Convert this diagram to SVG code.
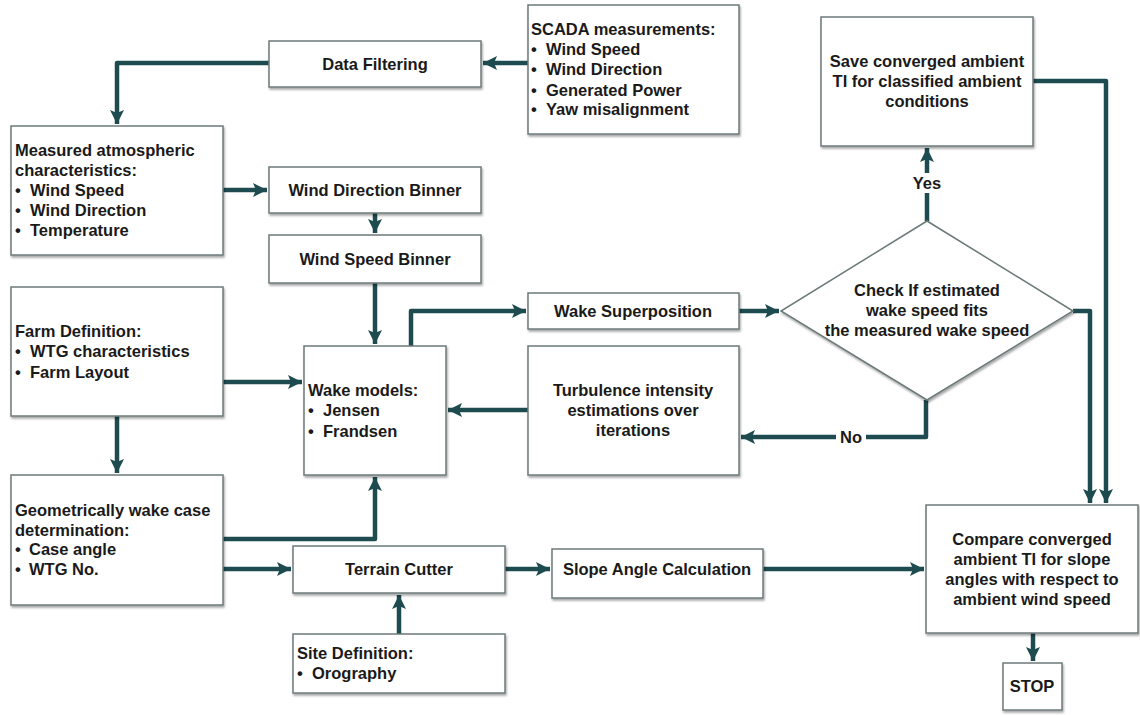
<svg xmlns="http://www.w3.org/2000/svg" width="1140" height="715" viewBox="0 0 1140 715">
<defs>
<marker id="ah" markerUnits="userSpaceOnUse" markerWidth="16" markerHeight="16" refX="14" refY="7" orient="auto">
<path d="M0,0 L14,7 L0,14 L3,7 z" fill="#1d4b4f"/>
</marker>
<filter id="sh" x="-10%" y="-10%" width="120%" height="130%">
<feDropShadow dx="1" dy="2" stdDeviation="1.2" flood-color="#000" flood-opacity="0.35"/>
</filter>
</defs>
<style>
.box{fill:#fff;stroke:#6c7a7a;stroke-width:1.5;filter:url(#sh)}
.t{font-family:"Liberation Sans",Arial,sans-serif;font-weight:bold;font-size:16.5px;fill:#1a1a1a}
.c{text-anchor:middle}
.ln{fill:none;stroke:#1d4b4f;stroke-width:4.5;stroke-linejoin:round}
.ar{marker-end:url(#ah)}
</style>
<rect width="1140" height="715" fill="#fff"/>

<g id="connectors">
<path class="ln ar" d="M528,63 H483"/>
<path class="ln ar" d="M269,63 H117 V124"/>
<path class="ln ar" d="M223,190 H267"/>
<path class="ln ar" d="M375,213 V233"/>
<path class="ln ar" d="M375,283 V344"/>
<path class="ln ar" d="M223,382 H302"/>
<path class="ln ar" d="M117,416 V473"/>
<path class="ln ar" d="M223,539 H375 V477"/>
<path class="ln ar" d="M223,569 H291"/>
<path class="ln ar" d="M399,634 V595"/>
<path class="ln ar" d="M505,569 H550"/>
<path class="ln ar" d="M763,569 H924"/>
<path class="ln ar" d="M411,346 V311 H526"/>
<path class="ln ar" d="M739,311 H779"/>
<path class="ln ar" d="M528,410 H448"/>
<path class="ln ar" d="M926,400 V437 H741"/>
<path class="ln ar" d="M927,221 V148"/>
<path class="ln ar" d="M1073,311 H1090 V503"/>
<path class="ln ar" d="M1033,81 H1106 V503"/>
<path class="ln ar" d="M1033,633 V661"/>
<rect x="836" y="428" width="30" height="18" fill="#fff"/>
<text class="t c" x="851" y="443">No</text>
<rect x="909" y="173" width="36" height="20" fill="#fff"/>
<text class="t c" x="927" y="189">Yes</text>
</g>

<g id="scada">
<rect class="box" x="528" y="5" width="211" height="129"/>
<text class="t" x="531" y="35">SCADA measurements:</text>
<text class="t" x="531" y="55">•</text><text class="t" x="546" y="55">Wind Speed</text>
<text class="t" x="531" y="75">•</text><text class="t" x="546" y="75">Wind Direction</text>
<text class="t" x="531" y="96">•</text><text class="t" x="546" y="96">Generated Power</text>
<text class="t" x="531" y="115">•</text><text class="t" x="546" y="115">Yaw misalignment</text>
</g>

<g id="data-filtering">
<rect class="box" x="269" y="41" width="212" height="46"/>
<text class="t c" x="375" y="70">Data Filtering</text>
</g>

<g id="measured">
<rect class="box" x="11" y="126" width="212" height="129"/>
<text class="t" x="15" y="156">Measured atmospheric</text>
<text class="t" x="15" y="176">characteristics:</text>
<text class="t" x="15" y="196">•</text><text class="t" x="30" y="196">Wind Speed</text>
<text class="t" x="15" y="216">•</text><text class="t" x="30" y="216">Wind Direction</text>
<text class="t" x="15" y="236">•</text><text class="t" x="30" y="236">Temperature</text>
</g>

<g id="wind-direction-binner">
<rect class="box" x="269" y="167" width="212" height="46"/>
<text class="t c" x="375" y="196">Wind Direction Binner</text>
</g>

<g id="wind-speed-binner">
<rect class="box" x="269" y="235" width="212" height="48"/>
<text class="t c" x="375" y="265">Wind Speed Binner</text>
</g>

<g id="farm-definition">
<rect class="box" x="11" y="287" width="212" height="129"/>
<text class="t" x="15" y="337">Farm Definition:</text>
<text class="t" x="15" y="357">•</text><text class="t" x="30" y="357">WTG characteristics</text>
<text class="t" x="15" y="378">•</text><text class="t" x="30" y="378">Farm Layout</text>
</g>

<g id="wake-models">
<rect class="box" x="304" y="346" width="142" height="129"/>
<text class="t" x="308" y="396">Wake models:</text>
<text class="t" x="308" y="416">•</text><text class="t" x="323" y="416">Jensen</text>
<text class="t" x="308" y="437">•</text><text class="t" x="323" y="437">Frandsen</text>
</g>

<g id="wake-superposition">
<rect class="box" x="528" y="293" width="211" height="36"/>
<text class="t c" x="633" y="317">Wake Superposition</text>
</g>

<g id="turbulence">
<rect class="box" x="528" y="346" width="211" height="129"/>
<text class="t c" x="633" y="396">Turbulence intensity</text>
<text class="t c" x="633" y="416">estimations over</text>
<text class="t c" x="633" y="436">iterations</text>
</g>

<g id="check">
<polygon class="box" points="927,221 1073,311 927,400 781,311"/>
<text class="t c" x="927" y="296">Check If estimated</text>
<text class="t c" x="927" y="316">wake speed fits</text>
<text class="t c" x="927" y="336">the measured wake speed</text>
</g>

<g id="save">
<rect class="box" x="821" y="17" width="212" height="129"/>
<text class="t c" x="927" y="67">Save converged ambient</text>
<text class="t c" x="927" y="87">TI for classified ambient</text>
<text class="t c" x="927" y="107">conditions</text>
</g>

<g id="geometric">
<rect class="box" x="11" y="475" width="212" height="130"/>
<text class="t" x="15" y="516">Geometrically wake case</text>
<text class="t" x="15" y="536">determination:</text>
<text class="t" x="15" y="555">•</text><text class="t" x="29" y="555">Case angle</text>
<text class="t" x="15" y="575">•</text><text class="t" x="29" y="575">WTG No.</text>
</g>

<g id="terrain-cutter">
<rect class="box" x="293" y="546" width="212" height="47"/>
<text class="t c" x="399" y="575">Terrain Cutter</text>
</g>

<g id="site-definition">
<rect class="box" x="293" y="634" width="212" height="59"/>
<text class="t" x="297" y="659">Site Definition:</text>
<text class="t" x="297" y="679">•</text><text class="t" x="312" y="679">Orography</text>
</g>

<g id="slope">
<rect class="box" x="552" y="549" width="211" height="49"/>
<text class="t c" x="657" y="575">Slope Angle Calculation</text>
</g>

<g id="compare">
<rect class="box" x="926" y="505" width="212" height="128"/>
<text class="t c" x="1032" y="545">Compare converged</text>
<text class="t c" x="1032" y="565">ambient TI for slope</text>
<text class="t c" x="1032" y="585">angles with respect to</text>
<text class="t c" x="1032" y="605">ambient wind speed</text>
</g>

<g id="stop">
<rect class="box" x="1003" y="663" width="59" height="47"/>
<text class="t c" x="1032" y="692">STOP</text>
</g>
</svg>
